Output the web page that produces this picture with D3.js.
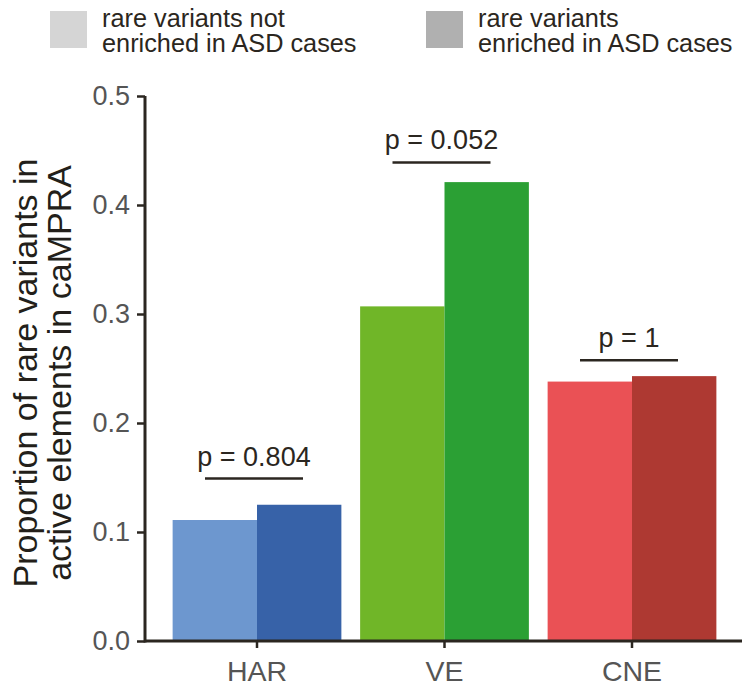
<!DOCTYPE html>
<html>
<head>
<meta charset="utf-8">
<script src="https://cdn.jsdelivr.net/npm/d3@7"></script>
<style>
  html, body { margin: 0; padding: 0; background: #fff; }
  svg { display: block; font-family: "Liberation Sans", Arial, Helvetica, sans-serif; }
</style>
</head>
<body>
<svg id="chart" width="742" height="688"></svg>
<script>
// Element classes on the x axis
const categories = ["HAR", "VE", "CNE"];
// Two groups of rare variants per class
const seriesNames = ["rare variants not enriched in ASD cases", "rare variants enriched in ASD cases"];
const notEnriched = [0.111, 0.307, 0.238];
const enriched = [0.125, 0.421, 0.243];
// Fisher test p-values and the height of each comparison bracket
const pLabels = ["p = 0.804", "p = 0.052", "p = 1"];
const pLineY = [0.149, 0.439, 0.2575];
const yTicks = [0.0, 0.1, 0.2, 0.3, 0.4, 0.5];

const lightColors = ["#6d97cf", "#70b628", "#ea5155"];
const darkColors = ["#3762a8", "#2ba034", "#ae3932"];
const legendColors = ["#d5d5d5", "#b0b0b0"];
const legendLines = [["rare variants not", "enriched in ASD cases"], ["rare variants", "enriched in ASD cases"]];

const axisColor = "#2b2620";
const svg = d3.select("#chart");

const x = d3.scaleBand().domain(categories).range([163.25, 725.75])
  .paddingInner(0.1).paddingOuter(0.05);
const xSub = d3.scaleBand().domain([0, 1]).range([0, x.bandwidth()]);
const y = d3.scaleLinear().domain([0, 0.5]).range([641, 96]);

// Bars
const rows = categories.map((c, i) => ({ c, i, vals: [notEnriched[i], enriched[i]] }));
const groups = svg.append("g").selectAll("g").data(rows).join("g")
  .attr("transform", d => `translate(${x(d.c)},0)`);
groups.selectAll("rect").data(d => d.vals.map((v, k) => ({ v, k, i: d.i })))
  .join("rect")
  .attr("x", d => xSub(d.k))
  .attr("width", xSub.bandwidth())
  .attr("y", d => y(d.v))
  .attr("height", d => y(0) - y(d.v))
  .attr("fill", d => d.k === 0 ? lightColors[d.i] : darkColors[d.i]);

// Y axis
const yAxis = d3.axisLeft(y).tickValues(yTicks).tickFormat(d3.format(".1f")).tickSize(8).tickPadding(7);
const gy = svg.append("g").attr("transform", "translate(145,0)").call(yAxis);
gy.select(".domain").attr("stroke", axisColor).attr("stroke-width", 3)
  .attr("d", `M0,${y(0) + 1.5}V${y(0.5)}`);
gy.selectAll(".tick line").attr("stroke", axisColor).attr("stroke-width", 2.5);
gy.selectAll(".tick text").attr("fill", "#555").attr("font-size", 27)
  .attr("font-family", "Liberation Sans, Arial, sans-serif");

// X axis
const xAxis = d3.axisBottom(x).tickSize(7).tickPadding(13);
const gx = svg.append("g").attr("transform", `translate(0,${y(0)})`).call(xAxis);
gx.select(".domain").attr("stroke", axisColor).attr("stroke-width", 3)
  .attr("d", "M145,0H742");
gx.selectAll(".tick line").attr("stroke", axisColor).attr("stroke-width", 2.5);
gx.selectAll(".tick text").attr("fill", "#555").attr("font-size", 28.5)
  .attr("font-family", "Liberation Sans, Arial, sans-serif");

// Comparison brackets with p-values
categories.forEach((c, i) => {
  const cx = x(c) + x.bandwidth() / 2 - 3;
  const ly = y(pLineY[i]);
  svg.append("line").attr("x1", cx - 49).attr("x2", cx + 49)
    .attr("y1", ly).attr("y2", ly)
    .attr("stroke", axisColor).attr("stroke-width", 2.5);
  svg.append("text").attr("x", cx).attr("y", ly - 13)
    .attr("text-anchor", "middle").attr("font-size", 27).attr("fill", "#2b2620")
    .text(pLabels[i]);
});

// Y axis title
const title = svg.append("text")
  .attr("transform", "translate(0,373) rotate(-90)")
  .attr("text-anchor", "middle").attr("font-size", 34).attr("fill", "#231f1a");
title.append("tspan").attr("x", 0).attr("y", 37).text("Proportion of rare variants in");
title.append("tspan").attr("x", 0).attr("y", 71).text("active elements in caMPRA");

// Legend
const legendX = [50, 426];
seriesNames.forEach((name, k) => {
  const g = svg.append("g").attr("transform", `translate(${legendX[k]},0)`);
  g.append("rect").attr("x", 0).attr("y", 11).attr("width", 37).attr("height", 37)
    .attr("fill", legendColors[k]);
  legendLines[k].forEach((line, j) => {
    g.append("text").attr("x", 52).attr("y", 27 + j * 25)
      .attr("font-size", 25.3).attr("fill", "#2b2620").text(line);
  });
});
</script>
</body>
</html>
